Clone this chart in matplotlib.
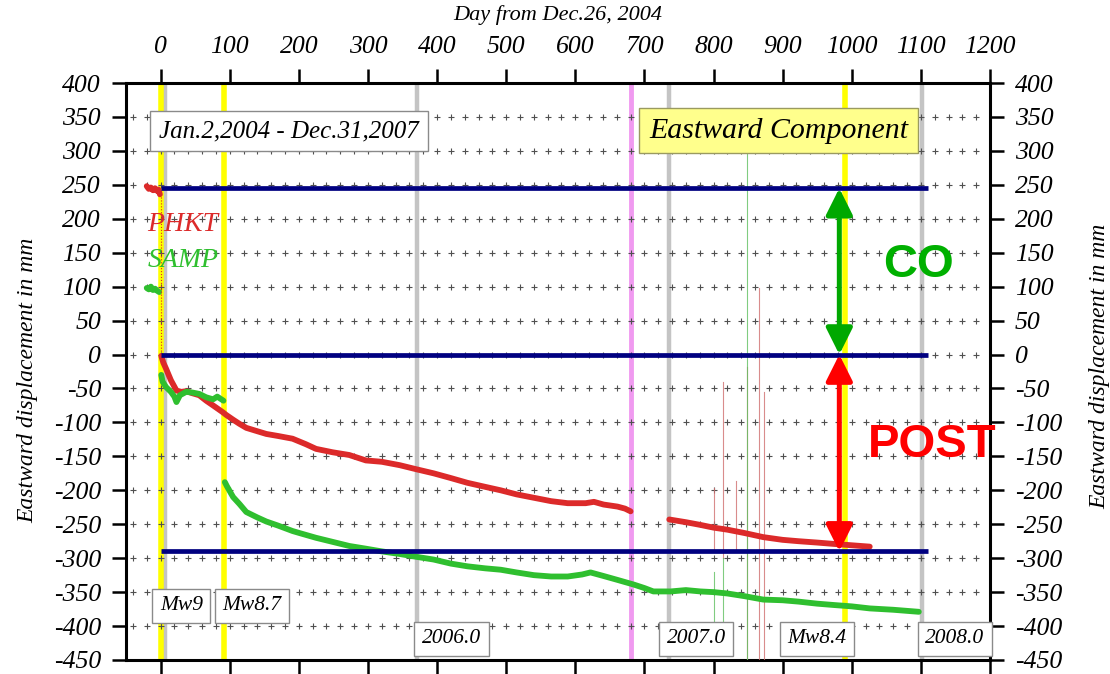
import matplotlib
matplotlib.use('Agg')
import matplotlib.pyplot as plt
import numpy as np

plt.rcParams['axes.unicode_minus'] = False

# PHKT eastward displacement (day from Dec.26 2004, mm)
phkt_pre_days = [-20, -17, -14, -11, -8, -5, -3, -1]
phkt_pre_mm = [248, 244, 246, 242, 245, 241, 243, 236]
phkt_a_days = [1, 4, 8, 15, 23, 30, 37, 46, 56, 66, 76, 90, 95, 105, 114, 124,
               140, 153, 170, 191, 210, 225, 249, 273, 297, 320, 346, 370, 395,
               420, 444, 470, 492, 515, 540, 565, 589, 615, 627, 641, 661, 672, 680]
phkt_a_mm = [-2, -12, -21, -38, -53, -55, -54, -57, -60, -68, -75, -85, -89, -96,
             -102, -108, -113, -117, -120, -124, -132, -139, -144, -148, -156, -158,
             -163, -169, -175, -182, -189, -195, -200, -206, -211, -216, -219, -219,
             -217, -221, -224, -227, -231]
phkt_b_days = [736, 760, 781, 800, 820, 845, 872, 900, 923, 950, 974, 1000, 1026]
phkt_b_mm = [-243, -247, -251, -255, -258, -263, -269, -273, -275, -277, -279, -281, -283]

# SAMP eastward displacement
samp_pre_days = [-20, -17, -14, -11, -8, -5, -2]
samp_pre_mm = [98, 96, 100, 95, 97, 94, 92]
samp_a_days = [1, 3, 8, 15, 20, 23, 28, 37, 46, 56, 66, 76, 82, 88, 91]
samp_a_mm = [-30, -40, -48, -55, -62, -70, -60, -55, -56, -58, -63, -66, -62, -66, -68]
samp_b_days = [93, 96, 105, 114, 124, 140, 153, 170, 191, 201, 225, 249, 273, 297,
               320, 347, 370, 395, 420, 444, 470, 492, 515, 540, 565, 589, 610, 622,
               640, 661, 685, 700, 713, 738, 760, 781, 800, 820, 845, 872, 900, 923,
               950, 974, 1000, 1026, 1060, 1097]
samp_b_mm = [-188, -194, -210, -220, -232, -240, -246, -252, -260, -263, -270, -276,
             -282, -286, -290, -294, -298, -302, -308, -312, -315, -317, -321, -325,
             -327, -327, -324, -321, -326, -332, -339, -344, -349, -349, -347, -349,
             -350, -352, -356, -361, -362, -364, -367, -369, -371, -374, -376, -379]

# outlier spikes: (day, top, bottom)
red_spikes = [(801, -197, -290), (814, -40, -300), (833, -187, -290),
              (848, -18, -450), (866, 98, -450), (873, -55, -450)]
green_spikes = [(800, -320, -400), (814, -300, -395), (848, 297, -450)]

# event lines
year_days = [6, 371, 736, 1101]
quake_days = [0, 92, 990]
gap_day = 681

co_level = 245
zero_level = 0
post_level = -290
arrow_day = 982

fig = plt.figure(figsize=(11.1, 6.74), dpi=100)
ax = fig.add_axes([126 / 1110, 14 / 674, 864 / 1110, 577 / 674])
ax.set_xlim(-50, 1200)
ax.set_ylim(-450, 400)

serif = 'Liberation Serif'

for d in year_days:
    ax.axvline(d, color='#c4c4c4', lw=3.2, zorder=1)
for d in quake_days:
    ax.axvline(d, color='#ffff00', lw=4.0, zorder=1)
ax.axvline(gap_day, color='#f09af0', lw=3.5, zorder=1)

# cross grid
gx, gy = np.meshgrid(np.arange(-40, 1200, 20), np.arange(-400, 400, 50))
ax.plot(gx.ravel(), gy.ravel(), '+', color='#505050', ms=5, mew=0.8, zorder=2)

red = '#dc2a2a'
green = '#2fbf2f'
for d, t, b in red_spikes:
    ax.plot([d, d], [t, b], color='#d07070', lw=0.8, alpha=0.8, zorder=3)
for d, t, b in green_spikes:
    ax.plot([d, d], [t, b], color='#60c060', lw=0.8, alpha=0.8, zorder=3)

for xs, ys, c in [(phkt_pre_days, phkt_pre_mm, red), (phkt_a_days, phkt_a_mm, red),
                  (phkt_b_days, phkt_b_mm, red), (samp_pre_days, samp_pre_mm, green),
                  (samp_a_days, samp_a_mm, green), (samp_b_days, samp_b_mm, green)]:
    ax.plot(xs, ys, color=c, lw=4.2, solid_capstyle='round', zorder=4)
ax.plot([0, 0], [phkt_pre_mm[-1], phkt_a_mm[0]], color=red, lw=0.8, ls=':', zorder=4)

for lvl in [co_level, zero_level, post_level]:
    ax.hlines(lvl, 0, 1110, color='#000080', lw=3.4, zorder=5)

ax.annotate('', xy=(arrow_day, co_level), xytext=(arrow_day, zero_level),
            arrowprops=dict(arrowstyle='<|-|>', color='#00a800', lw=3.6,
                            mutation_scale=40, shrinkA=0, shrinkB=0), zorder=6)
ax.annotate('', xy=(arrow_day, zero_level), xytext=(arrow_day, post_level),
            arrowprops=dict(arrowstyle='<|-|>', color='#ff0000', lw=3.6,
                            mutation_scale=40, shrinkA=0, shrinkB=0), zorder=6)
ax.text(1096, 132, 'CO', color='#00b000', fontsize=34, fontweight='bold',
        family='Liberation Sans', ha='center', va='center', zorder=7)
ax.text(1117, -133, 'POST', color='#ff0000', fontsize=34, fontweight='bold',
        family='Liberation Sans', ha='center', va='center', zorder=7)

ax.text(-19, 191, 'PHKT', color=red, fontsize=20, style='italic', family=serif,
        ha='left', va='center', zorder=7)
ax.text(-19, 138, 'SAMP', color=green, fontsize=20, style='italic', family=serif,
        ha='left', va='center', zorder=7)

box = dict(boxstyle='square,pad=0.35', fc='white', ec='#8a8a8a', lw=1)
ax.text(186, 329, 'Jan.2,2004 - Dec.31,2007', fontsize=18, style='italic',
        family=serif, ha='center', va='center', bbox=box, zorder=7)
ax.text(894, 330, 'Eastward Component', fontsize=21.5, style='italic', family=serif,
        ha='center', va='center', zorder=7,
        bbox=dict(boxstyle='square,pad=0.32', fc='#ffff8c', ec='#9a9a60', lw=1))

for label, xc, yc in [('Mw9', 30, -370), ('Mw8.7', 132, -370), ('2006.0', 421, -419),
                      ('2007.0', 775, -419), ('Mw8.4', 950, -419), ('2008.0', 1149, -419)]:
    ax.text(xc, yc, label, fontsize=15.5, style='italic', family=serif,
            ha='center', va='center', bbox=box, zorder=7)

xt = np.arange(0, 1201, 100)
yt = np.arange(-450, 401, 50)
ax.set_xticks(xt)
ax.set_yticks(yt)
ax.set_xticklabels([str(v) for v in xt], fontsize=18.5, style='italic', family=serif)
ax.set_yticklabels([str(v) for v in yt], fontsize=18.5, style='italic', family=serif)
ax.tick_params(axis='x', which='both', direction='out', length=10, width=1.8,
               top=True, bottom=True, labeltop=True, labelbottom=False, pad=8)
ax.tick_params(axis='y', which='both', direction='out', length=10, width=1.8,
               left=True, right=True, labelleft=True, labelright=True, pad=8)
for sp in ax.spines.values():
    sp.set_linewidth(2.2)

fig.text(558 / 1110, 1 - 15 / 674, 'Day from Dec.26, 2004', fontsize=16,
         style='italic', family=serif, ha='center', va='center')
fig.text(28 / 1110, 1 - 380 / 674, 'Eastward displacement in mm', fontsize=17,
         style='italic', family=serif, ha='center', va='center', rotation=90)
fig.text(1100 / 1110, 1 - 366 / 674, 'Eastward displacement in mm', fontsize=17,
         style='italic', family=serif, ha='center', va='center', rotation=90)

fig.savefig('out.png', dpi=100)
